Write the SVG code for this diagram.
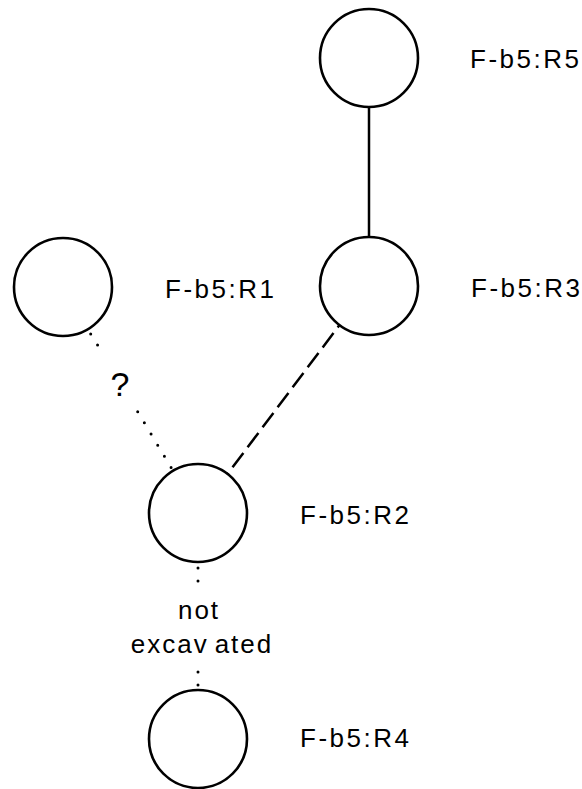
<svg xmlns="http://www.w3.org/2000/svg" width="582" height="789" viewBox="0 0 582 789">
<style>
.node{fill:#fff;stroke:#000;stroke-width:2.6}
.lbl{font-family:"Liberation Sans",Arial,sans-serif;font-size:26px;letter-spacing:2.5px;fill:#000}
.solid{stroke:#000;stroke-width:2.5;fill:none}
.dash{stroke:#000;stroke-width:2.5;fill:none;stroke-dasharray:18 7;stroke-dashoffset:15}
.dot{stroke:#000;stroke-width:3;fill:none;stroke-dasharray:0 13;stroke-linecap:round}
</style>
<rect width="582" height="789" fill="#fff"/>
<g id="connectors">
<line class="solid" x1="369" y1="107" x2="369" y2="237"/>
<line class="dash" x1="339.5" y1="325" x2="227.5" y2="474"/>
<line class="dot" x1="90.7" y1="334" x2="97.9" y2="345.6"/>
<line class="dot" x1="137.7" y1="411.7" x2="171.1" y2="467.5"/>
<text class="lbl" x="120" y="396" text-anchor="middle" style="font-size:34px;letter-spacing:0">?</text>
<line class="dot" x1="198" y1="568" x2="198" y2="581.5"/>
<line class="dot" x1="198" y1="672" x2="198" y2="685.5"/>
<text class="lbl" x="199" y="619" text-anchor="middle" style="letter-spacing:2px">not</text>
<text class="lbl" x="202" y="653" text-anchor="middle" style="letter-spacing:2px">excav<tspan dx="6">ated</tspan></text>
</g>
<g id="R5">
<circle class="node" cx="369" cy="58" r="49"/>
<text class="lbl" x="470" y="68">F-b5:R5</text>
</g>
<g id="R3">
<circle class="node" cx="369" cy="286" r="49"/>
<text class="lbl" x="471" y="297">F-b5:R3</text>
</g>
<g id="R1">
<circle class="node" cx="63" cy="287" r="49"/>
<text class="lbl" x="165" y="298">F-b5:R1</text>
</g>
<g id="R2">
<circle class="node" cx="198" cy="513" r="49"/>
<text class="lbl" x="300" y="524">F-b5:R2</text>
</g>
<g id="R4">
<circle class="node" cx="198" cy="739" r="49"/>
<text class="lbl" x="300" y="747">F-b5:R4</text>
</g>
</svg>
